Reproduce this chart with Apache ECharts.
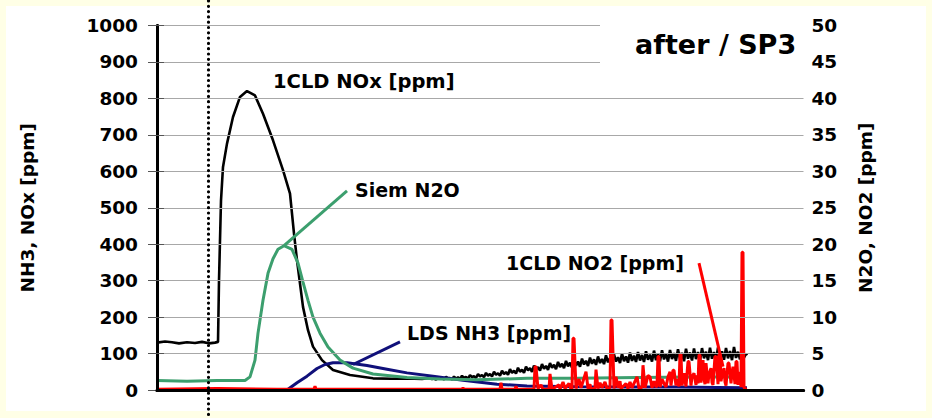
<!DOCTYPE html>
<html>
<head>
<meta charset="utf-8">
<script src="https://cdn.jsdelivr.net/npm/echarts@6/dist/echarts.min.js"></script>
<style>
  html, body { margin: 0; padding: 0; background: #ffffe6; overflow: hidden; }
  #panel { position: absolute; left: 6px; top: 6px; width: 920px; height: 405px; background: #ffffff; }
  #chart { position: absolute; left: 0; top: 0; width: 932px; height: 418px; }
</style>
</head>
<body>
<div id="panel"></div>
<div id="chart"></div>
<script>
// Time axis in sample units; measurement starts at 0.
const timeMax = 646.5;
const eventTime = 51.5;           // dotted marker: start of the event

// 1CLD NOx [ppm] (left axis)
const noxPpm = [
  [0,130],[8,133],[15,131],[22,128],[30,131],[38,129],[45,132],[52,128],[58,130],[61,132],
  [62,300],[64,520],[66,612],[70,676],[76,749],[83,804],[90,820],[98,808],[106,758],[116,685],
  [126,603],[133,539],[135,484],[137,429],[140,356],[143,292],[146,228],[151,164],[156,119],
  [165,82],[176,55],[193,41],[216,32],[235,31],[250,32],[265,30],
  [273,33],[275,30],[277,32],[279,28],[281,35],[283,31],[285,34],[287,29],[289,36],[291,32],
  [293,33],[295,29],[297,37],[299,31],[301,35],[303,30],[305,39],[307,33],[309,36],[311,31],
  [313,41],[315,35],[317,38],[319,33],[321,44],[323,37],[325,41],[327,35],[329,47],[331,39],
  [333,44],[335,37],[337,50],[339,42],[341,46],[343,39],[345,53],[347,44],[349,49],[351,42],
  [353,57],[355,47],[357,53],[359,45],[361,61],[363,50],[365,56],[367,47],[369,64],[371,54],
  [373,60],[375,50],[377,67],[379,56],[381,63],[383,53],[385,71],[387,58],[389,66],[391,55],
  [393,74],[395,61],[397,69],[399,57],[401,77],[403,63],[405,72],[407,60],[409,80],[411,65],
  [413,75],[415,62],[417,83],[419,67],[421,78],[423,64],[425,86],[427,70],[429,80],[431,66],
  [433,89],[435,72],[437,84],[439,69],[441,92],[443,74],[445,85],[447,71],[449,95],[451,76],
  [453,88],[455,72],[457,98],[459,78],[461,90],[463,74],[465,100],[467,79],[469,92],[471,75],
  [473,103],[475,80],[477,94],[479,77],[481,104],[483,81],[485,96],[487,77],[489,106],[491,83],
  [493,97],[495,78],[497,108],[499,82],[501,99],[503,79],[505,109],[507,84],[509,100],[511,78],
  [513,110],[515,85],[517,101],[519,80],[521,112],[523,84],[525,102],[527,79],[529,113],[531,86],
  [533,103],[535,81],[537,114],[539,85],[541,104],[543,80],[545,115],[547,87],[549,105],[551,82],
  [553,116],[555,86],[557,104],[559,81],[561,117],[563,88],[565,106],[567,83],[569,115],[571,87],
  [573,107],[575,82],[577,118],[579,88],[581,105],[583,84],[585,116],[587,89],[589,99],[590,95]
];

// LDS NH3 [ppm] (left axis)
const nh3Ppm = [
  [0,0],[130,0],[140,20],[150,38],[160,59],[168,70],[176,75],[190,75],[210,67],[230,57],
  [250,47],[276,38],[306,27],[340,16],[370,11],[420,9],[470,8],[520,8],[560,7],[590,6]
];

// Siem N2O [ppm] (right axis)
const n2oPpm = [
  [0,1.3],[30,1.2],[60,1.3],[88,1.3],[93,1.8],[98,4.1],[101,7.8],[106,12.3],[111,16],[116,18],
  [121,19.3],[127,19.8],[135,19.3],[141,17.4],[146,14.8],[151,12.3],[156,10],[163,7.8],[171,5.9],
  [183,4.1],[196,3.0],[216,2.2],[250,1.7],[283,1.5],[320,1.4],[370,1.6],[420,1.6],[480,1.7],
  [540,1.8],[588,1.8]
];

// 1CLD NO2 [ppm] (right axis)
const no2Ppm = [
  [0,0.1],[60,0.2],[120,0.1],[157,0.1],[158,0.5],[159,0.1],[230,0.1],[305,0.1],[306,0.3],[307,0.1],
  [343,0.1],[344,1.0],[345,0.1],[358,0.1],[359,0.5],[360,0.1],[377,0.1],[378,3.2],[379,3.2],[381,0.2],
  [384,0.7],[386,0.1],[392,0.1],[393,2.2],[395,0.1],[402,0.7],[403,0.1],[406,1.1],[408,0.2],[412,0.9],
  [414,0.1],[415,0.2],[416,7.1],[417,7.1],[419,0.2],[422,1.5],[424,0.3],[429,2.5],[431,0.2],[433,0.8],
  [434,0.1],[438,0.3],[439,2.8],[441,0.2],[443,1.0],[445,0.3],[448,1.1],[450,0.2],[453,0.3],[454,9.6],
  [455,9.6],[457,0.2],[459,1.8],[461,0.3],[463,1.2],[464,0.2],[469,0.9],[471,0.2],[473,1.1],[475,0.3],
  [480,1.8],[482,0.2],[485,0.4],[486,3.4],[488,0.3],[491,2.0],[493,1.8],[495,0.3],[497,1.2],[499,0.4],
  [500,0.6],[501,4.6],[502,4.6],[503,0.4],[505,1.5],[507,0.9],[509,0.4],[511,1.8],[513,2.5],[514,0.6],
  [516,2.7],[517,2.7],[519,0.6],[520,1.5],[522,0.5],[523,4.9],[524,4.9],[525,0.6],[527,2.3],[528,1.2],
  [529,0.5],[531,3.9],[532,3.9],[534,0.6],[535,1.8],[537,2.3],[539,0.7],[540,2.0],[541,0.9],[542,4.8],
  [543,4.8],[544,1.0],[546,4.1],[547,1.5],[548,0.8],[549,3.7],[551,0.9],[552,2.2],[554,3.0],[555,1.0],
  [556,0.7],[558,4.6],[559,4.6],[561,0.8],[562,5.0],[563,5.0],[564,1.2],[565,2.0],[567,3.0],[568,1.1],
  [569,0.6],[571,3.7],[572,3.7],[574,0.9],[575,2.4],[576,3.2],[578,0.8],[579,3.9],[580,3.9],[581,0.7],
  [582,1.6],[583,2.5],[584,0.4],[585,18.9],[586,18.9],[587,0.3],[589.5,0.1]
];

// Callout leaders: [from point on curve, to label]
const n2oLeader = [[127, 19.8], [190, 27.3]];
const nh3Leader = [[196, 70], [243, 132]];
const no2Leader = [[566, 3.2], [542, 17.4]];

const FONT = 'DejaVu Sans';
const C_NOX = '#000000', C_NH3 = '#10107a', C_N2O = '#3c9f6e', C_NO2 = '#ff0000';

function leader(pts, color) {
  return {
    silent: true, symbol: 'none', animation: false,
    label: { show: false },
    lineStyle: { color: color, width: 3, type: 'solid' },
    data: [[{ coord: pts[0] }, { coord: pts[1] }]]
  };
}

const chart = echarts.init(document.getElementById('chart'), null, { renderer: 'svg' });

const labelText = { color: '#000', fontFamily: FONT, fontWeight: 'bold', fontSize: 18.5 };

chart.setOption({
  backgroundColor: 'transparent',
  animation: false,
  grid: { left: 157, right: 128.5, top: 25.5, bottom: 28 },
  title: {
    text: 'after / SP3',
    left: 600, top: 21,
    padding: [10, 11, 6, 35],
    backgroundColor: '#ffffff',
    textStyle: { fontFamily: FONT, fontWeight: 'bold', fontSize: 27, color: '#000' }
  },
  xAxis: [
    {
      type: 'value', min: 0, max: timeMax, position: 'bottom', z: 10,
      axisLine: { show: true, lineStyle: { color: '#000', width: 3 } },
      axisTick: { show: false }, axisLabel: { show: false }, splitLine: { show: false }
    },
    {
      type: 'value', min: 0, max: timeMax, position: 'top', z: 5,
      axisLine: { show: true, lineStyle: { color: '#000', width: 3 } },
      axisTick: { show: false }, axisLabel: { show: false }, splitLine: { show: false }
    }
  ],
  yAxis: [
    {
      type: 'value', min: 0, max: 1000, interval: 100, position: 'left', z: 5,
      name: 'NH3, NOx [ppm]', nameLocation: 'middle', nameRotate: 90, nameGap: 120,
      nameTextStyle: labelText,
      axisLine: { show: true, lineStyle: { color: '#000', width: 3 } },
      axisTick: { show: true, length: 9, lineStyle: { color: '#555', width: 1 } },
      axisLabel: Object.assign({ margin: 19, formatter: v => String(v) }, labelText),
      splitLine: { show: true, lineStyle: { color: '#a8a8a8', width: 1 } }
    },
    {
      type: 'value', min: 0, max: 50, interval: 5, position: 'right', z: 5,
      name: 'N2O, NO2 [ppm]', nameLocation: 'middle', nameRotate: 90, nameGap: 52,
      nameTextStyle: labelText,
      axisLine: { show: true, lineStyle: { color: '#000', width: 3 } },
      axisTick: { show: true, length: 7, lineStyle: { color: '#555', width: 1 } },
      axisLabel: Object.assign({ margin: 8, formatter: v => String(v) }, labelText),
      splitLine: { show: false }
    }
  ],
  series: [
    {
      name: '1CLD NOx [ppm]', type: 'line', yAxisIndex: 0, data: noxPpm,
      showSymbol: false, lineStyle: { color: C_NOX, width: 2.6 }, z: 2
    },
    {
      name: 'LDS NH3 [ppm]', type: 'line', yAxisIndex: 0, data: nh3Ppm,
      showSymbol: false, lineStyle: { color: C_NH3, width: 3 }, z: 2,
      markLine: leader(nh3Leader, C_NH3)
    },
    {
      name: 'Siem N2O', type: 'line', yAxisIndex: 1, data: n2oPpm,
      showSymbol: false, lineStyle: { color: C_N2O, width: 3 }, z: 2,
      markLine: leader(n2oLeader, C_N2O)
    },
    {
      name: '1CLD NO2 [ppm]', type: 'line', yAxisIndex: 1, data: no2Ppm,
      showSymbol: false, lineStyle: { color: C_NO2, width: 3 }, z: 3,
      markLine: leader(no2Leader, C_NO2)
    }
  ]
});

// Curve labels and the dotted event marker, placed after the axes are laid out
const evX = chart.convertToPixel({ xAxisIndex: 0 }, eventTime);
function tag(text, x, y, size) {
  return {
    type: 'text', x: x, y: y, z: 50, silent: true,
    style: { text: text, fill: '#000', font: 'bold ' + size + 'px "' + FONT + '"',
             textAlign: 'left', textVerticalAlign: 'middle' }
  };
}
chart.setOption({
  graphic: [
    {
      type: 'line', z: 40, silent: true,
      shape: { x1: evX, y1: 1, x2: evX, y2: 418 },
      style: { stroke: '#000', lineWidth: 3.2, lineDash: [0, 5.3], lineCap: 'round' }
    },
    tag('1CLD NOx [ppm]', 273, 81, 19.5),
    tag('Siem N2O', 355, 190, 19),
    tag('LDS NH3 [ppm]', 407, 333, 19),
    tag('1CLD NO2 [ppm]', 506, 262.5, 19)
  ]
});
</script>
</body>
</html>
